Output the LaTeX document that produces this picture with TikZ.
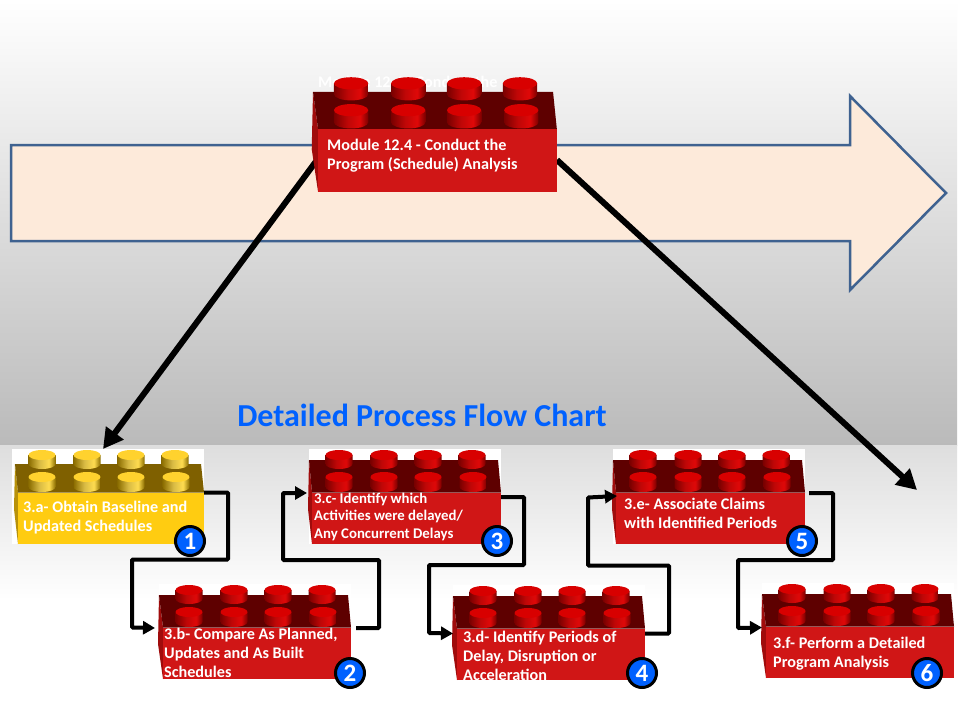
\documentclass[tikz,border=0pt]{standalone}
\usepackage{fontspec}
\setmainfont{Carlito}
\usetikzlibrary{arrows.meta}
\definecolor{rtop}{HTML}{5E0000}
\definecolor{rfront}{HTML}{D01616}
\definecolor{rside}{HTML}{A00C0C}
\definecolor{rcap}{HTML}{D80000}
\definecolor{rdark}{HTML}{7A0000}
\definecolor{rbright}{HTML}{E00808}
\definecolor{ytop}{HTML}{7F6000}
\definecolor{yfront}{HTML}{FFCC11}
\definecolor{yside}{HTML}{B8920A}
\definecolor{ycap}{HTML}{FFD22E}
\definecolor{ydark}{HTML}{8A6C00}
\definecolor{ybright}{HTML}{FFDC50}
\definecolor{flowblue}{HTML}{0061FF}
\definecolor{arrowfill}{HTML}{FDEADA}
\definecolor{arrowline}{HTML}{3F6290}
\pgfdeclarehorizontalshading{rstud}{100bp}{color(0bp)=(rdark);color(25bp)=(rdark);color(45bp)=(rbright!85!black);color(63bp)=(rbright);color(75bp)=(rdark);color(100bp)=(rdark)}
\pgfdeclarehorizontalshading{ystud}{100bp}{color(0bp)=(ydark);color(25bp)=(ydark);color(45bp)=(ybright!85!black);color(63bp)=(ybright);color(75bp)=(ydark);color(100bp)=(ydark)}
\newcommand{\stud}[4]{% cx, cy, bottom y, palette
  \shade[shading=#4stud] (#1-13.5,#2) -- (#1-13.5,#3) arc[start angle=180,end angle=0,x radius=13.5,y radius=5] -- (#1+13.5,#2) -- cycle;
  \fill[#4cap] (#1,#2) ellipse[x radius=13.5,y radius=5];
}
\newcommand{\brick}[8]{% x, y, xscale, yscale, palette, top-left dx, top y, front-left dx
  \begin{scope}[shift={(#1,#2)},xscale=#3,yscale=#4]
    \fill[#5side] (#6,#7) -- (#8,43.5) -- (#8,95) -- (#6-1,60) -- cycle;
    \fill[#5top] (#6,#7) -- (189,#7) -- (192,43.5) -- (#8,43.5) -- cycle;
    \fill[#5front] (#8,43.5) -- (192,43.5) -- (192,95) -- (#8,95) -- cycle;
    \foreach \cx in {30,75,119,163}{\stud{\cx}{6}{15}{#5}}
    \foreach \cx in {30,75,119,164}{\stud{\cx}{28}{38}{#5}}
  \end{scope}
}
\tikzset{
  port/.style={inner sep=0pt,outer sep=0pt,minimum width=#1},
  flow/.style={line width=4pt,rounded corners=1pt,-{Triangle[length=12pt,width=13pt]},black},
  bigflow/.style={line width=6pt,-{Triangle[length=20pt,width=21pt]},black},
  lbl/.style={text=white,font=\bfseries\fontsize{16.2}{19}\selectfont,align=left,anchor=west,inner sep=0pt},
  badge/.style={circle,draw=black,line width=3pt,fill=flowblue,text=white,minimum size=29pt,inner sep=0pt,font=\bfseries\fontsize{25}{25}\selectfont},
  whitebox/.style={fill=white}
}
\begin{document}
\begin{tikzpicture}[x=1pt,y=-1pt]
\useasboundingbox (0,0) rectangle (960,720);
% invisible front faces used as connector anchors
\node[port=240pt,minimum height=64pt] (main) at (437,160) {};
\node[port=186pt,minimum height=51pt] (a) at (111,518) {};
\node[port=188pt,minimum height=51pt] (b) at (257,653.5) {};
\node[port=188pt,minimum height=51pt] (c) at (407,518.5) {};
\node[port=188pt,minimum height=51pt] (d) at (551,655) {};
\node[port=188pt,minimum height=51pt] (e) at (711,518.5) {};
\node[port=188pt,minimum height=51pt] (f) at (860,653) {};
\coordinate (lefttip) at (103,449);
\coordinate (righttip) at (917,490);
% background
\fill[white] (0,0) rectangle (960,720);
\shade[top color=white,bottom color=black!27] (0,0) rectangle (957,445);
\shade[top color=black!13,bottom color=white] (0,445) rectangle (957,600);
% block arrow
\draw[draw=arrowline,fill=arrowfill,line width=2.5pt,line join=miter]
  (11,145) -- (850,145) -- (850,96) -- (946,193) -- (850,290) -- (850,241) -- (11,241) -- cycle;
% hidden title behind the main brick
\node[lbl,anchor=west] (hidden) at (318,82) {Module 12.4 - Conduct the};
% large connectors
\draw[bigflow] (main.west) -- (lefttip);
\draw[bigflow] (main.east) -- (righttip);
% white boxes behind bricks
\fill[whitebox] (12,449) rectangle ++(192,95);
\fill[whitebox] (159,584) rectangle ++(192,95);
\fill[whitebox] (309,449) rectangle ++(192,95);
\fill[whitebox] (453,585) rectangle ++(192,96);
\fill[whitebox] (613,449) rectangle ++(192,95);
\fill[whitebox] (762,583) rectangle ++(192,96);
% bricks
\brick{313}{76}{1.27}{1.22}{r}{0}{13}{4}
\brick{12}{449}{1}{1}{y}{3}{15}{6}
\brick{159}{584}{1}{1}{r}{0}{11}{4}
\brick{309}{449}{1}{1}{r}{0}{11}{3}
\brick{453}{585}{1}{1}{r}{0}{11}{4}
\brick{613}{449}{1}{1}{r}{0}{11}{3}
\brick{762}{583}{1}{1}{r}{0}{11}{4}
% flow connectors
\draw[flow] (a.north east) -- ++(24,0) -- ++(0,67) -- ++(-96,0) -- ++(0,68) -- ([xshift=-8pt]b.north west);
\draw[flow] ([xshift=5pt]b.north east) -- ++(23,0) -- ++(0,-68) -- ++(-96,0) -- ++(0,-67) -- ([xshift=-6pt]c.north west);
\draw[flow] ([yshift=-4pt]c.north east) -- ++(23,0) -- ++(0,68) -- ++(-95,0) -- ++(0,68) -- ([xshift=-4pt,yshift=-4pt]d.north west);
\draw[flow] ([yshift=-4pt]d.north east) -- ++(24,0) -- ++(0,-68) -- ++(-81,0) -- ++(0,-68) -- ([yshift=-3pt]e.north west);
\draw[flow] ([xshift=4pt,yshift=0pt]e.north east) -- ++(24,0) -- ++(0,67) -- ++(-95,0) -- ++(0,68) -- ([xshift=-4pt]f.north west);
% labels
\node[lbl] (tmain) at (327,155.5) {Module 12.4 - Conduct the\\Program (Schedule) Analysis};
\node[lbl] (ta) at (23,517.5) {3.a- Obtain Baseline and\\Updated Schedules};
\node[lbl] (tb) at (164,652.5) {3.b- Compare As Planned,\\Updates and As Built\\Schedules};
\node[lbl,font=\bfseries\fontsize{14.8}{17.5}\selectfont] (tc) at (314,516.5) {3.c- Identify which\\Activities were delayed/\\Any Concurrent Delays};
\node[lbl] (td) at (463,655.5) {3.d- Identify Periods of\\Delay, Disruption or\\Acceleration};
\node[lbl] (te) at (624,513) {3.e- Associate Claims\\with Identified Periods};
\node[lbl] (tf) at (773,654) {3.f- Perform a Detailed\\Program Analysis};
\node[text=flowblue,font=\bfseries\fontsize{32}{34}\selectfont,inner sep=0pt] (title) at (422,415) {Detailed Process Flow Chart};
% badges
\node[badge] (n1) at (190,541) {1};
\node[badge] (n2) at (350,673) {2};
\node[badge] (n3) at (497,541) {3};
\node[badge] (n4) at (642,673) {4};
\node[badge] (n5) at (802,541) {5};
\node[badge] (n6) at (927,673) {6};
\end{tikzpicture}
\end{document}
